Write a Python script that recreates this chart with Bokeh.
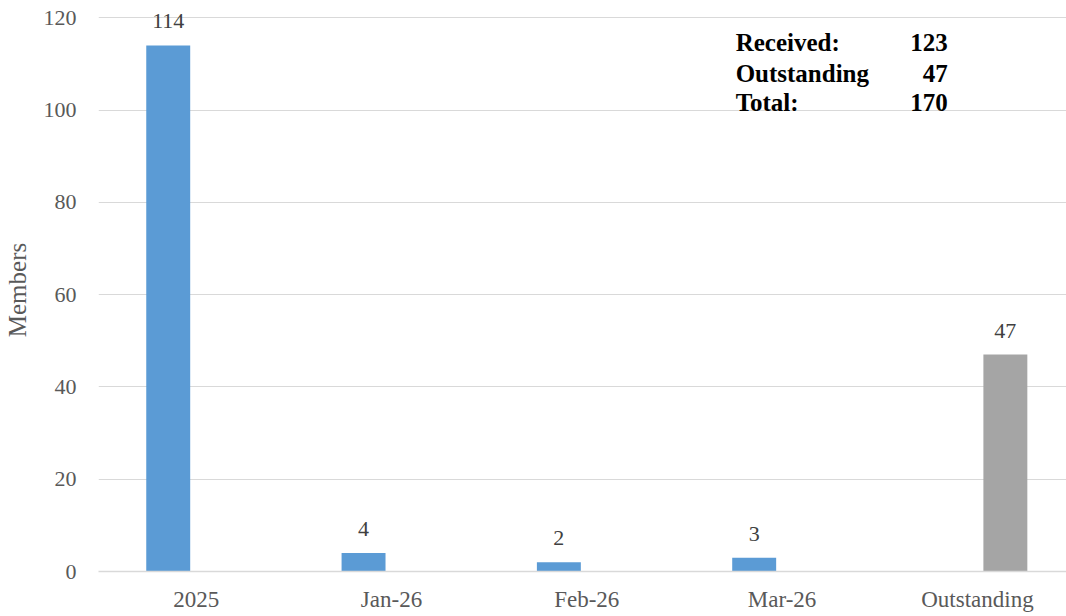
from bokeh.plotting import figure
from bokeh.models import ColumnDataSource, FixedTicker, Label, Range1d
from bokeh.core.properties import value
from bokeh.embed import file_html
from bokeh.resources import INLINE

# Member submissions by period
categories = ["2025", "Jan-26", "Feb-26", "Mar-26", "Outstanding"]
received = [114, 4, 2, 3]          # first four categories
outstanding = [47]                 # last category
y_ticks = [0, 20, 40, 60, 80, 100, 120]

FONT = "Liberation Serif"
BLUE = "#5B9BD5"
GREY = "#A5A5A5"
GRID = "#D9D9D9"

centers = [i + 0.5 for i in range(len(categories))]
bar_w = 0.225
shift = 0.143

rec_src = ColumnDataSource(dict(
    x=[centers[i] - shift for i in range(len(received))],
    top=received,
    label=[str(v) for v in received],
))
out_src = ColumnDataSource(dict(
    x=[centers[len(received) + i] + shift for i in range(len(outstanding))],
    top=outstanding,
    label=[str(v) for v in outstanding],
))

p = figure(width=1066, height=616, output_backend="svg", toolbar_location=None,
           x_range=Range1d(0, 4.956), y_range=Range1d(0, 122),
           min_border_left=98, min_border_right=0, min_border_top=8,
           min_border_bottom=45, background_fill_color="white",
           border_fill_color="white")
p.outline_line_color = None

p.vbar(x="x", top="top", bottom=0, width=bar_w, source=rec_src,
       fill_color=BLUE, line_color=None)
p.vbar(x="x", top="top", bottom=0, width=bar_w, source=out_src,
       fill_color=GREY, line_color=None)

for src in (rec_src, out_src):
    p.text(x="x", y="top", text="label", source=src, text_align="center",
           text_baseline="alphabetic", y_offset=-24,
           text_font=value(FONT), text_font_size="22px", text_color="#404040")

# grid
p.xgrid.grid_line_color = None
p.ygrid.grid_line_color = GRID
p.ygrid.grid_line_width = 1
p.ygrid.ticker = FixedTicker(ticks=y_ticks)

# x axis
p.xaxis.ticker = FixedTicker(ticks=centers)
p.xaxis.major_label_overrides = {c: name for c, name in zip(centers, categories)}
p.xaxis.axis_line_color = GRID
p.xaxis.axis_line_width = 1.5
p.xaxis.major_tick_line_color = None
p.xaxis.minor_tick_line_color = None
p.xaxis.major_label_standoff = 9
p.xaxis.major_label_text_font = FONT
p.xaxis.major_label_text_font_size = "23px"
p.xaxis.major_label_text_color = "#595959"

# y axis
p.yaxis.ticker = FixedTicker(ticks=y_ticks)
p.yaxis.axis_line_color = None
p.yaxis.major_tick_line_color = None
p.yaxis.minor_tick_line_color = None
p.yaxis.major_label_standoff = 16
p.yaxis.major_label_text_font = FONT
p.yaxis.major_label_text_font_size = "22px"
p.yaxis.major_label_text_color = "#595959"
p.yaxis.axis_label = "Members"
p.yaxis.axis_label_text_font = FONT
p.yaxis.axis_label_text_font_size = "25px"
p.yaxis.axis_label_text_font_style = "normal"
p.yaxis.axis_label_text_color = "#595959"
p.yaxis.axis_label_standoff = 10

# summary block
total_received = sum(received)
total_outstanding = sum(outstanding)
rows = [("Received:", total_received, 114.6),
        ("Outstanding", total_outstanding, 107.9),
        ("Total:", total_received + total_outstanding, 101.6)]
for name, num, ypos in rows:
    for txt, xpos, align in ((name, 3.262, "left"), (str(num), 4.348, "right")):
        p.add_layout(Label(x=xpos, y=ypos, text=txt, text_align=align,
                           text_baseline="alphabetic", text_font=FONT,
                           text_font_size="25px", text_font_style="bold",
                           text_color="black"))

open("out.html", "w").write(file_html(p, INLINE))
